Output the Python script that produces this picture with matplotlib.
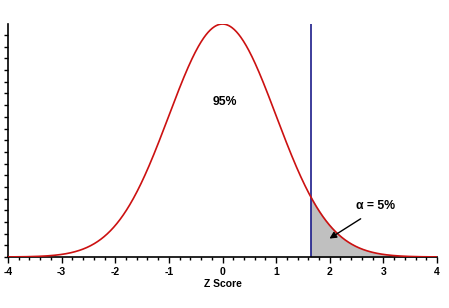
import numpy as np
import matplotlib
matplotlib.use("Agg")
import matplotlib.pyplot as plt
from matplotlib.ticker import MultipleLocator

# Distribution parameters (standard normal), one-tailed test at alpha = 5%
mean = 0.0
sd = 1.0
z_crit = 1.645
x_range = [-4, 4]
x_ticks = [-4, -3, -2, -1, 0, 1, 2, 3, 4]
center_label = "95%"
tail_label = "α = 5%"
x_label = "Z Score"

z = np.linspace(x_range[0], x_range[1], 801)
density = np.exp(-0.5 * ((z - mean) / sd) ** 2) / (sd * np.sqrt(2 * np.pi))

fig = plt.figure(figsize=(4.49, 3.08), dpi=100)
ax = fig.add_axes([0.0178, 0.1656, 0.9555, 0.7565])

tail = z >= z_crit
ax.fill_between(z[tail], 0, density[tail], color="#c0c0c0", zorder=1)
ax.plot(z, density, color="#cc1111", lw=1.2, zorder=3)
ax.axvline(z_crit, color="#1c1c8a", lw=1.2, zorder=2)

ax.set_xlim(x_range)
ax.set_ylim(0, 0.399)
ax.set_xticks(x_ticks)
ax.set_xticklabels([str(t) for t in x_ticks])
ax.xaxis.set_minor_locator(MultipleLocator(0.2))
ax.yaxis.set_major_locator(MultipleLocator(0.02))
ax.set_yticklabels([])

for s in ["top", "right"]:
    ax.spines[s].set_visible(False)
for s in ["left", "bottom"]:
    ax.spines[s].set_linewidth(1.2)
ax.tick_params(axis="x", which="major", direction="out", length=4, width=1,
               labelsize=7.5, pad=3)
ax.tick_params(axis="x", which="minor", direction="out", length=2.5, width=1)
ax.tick_params(axis="y", which="major", direction="out", length=3, width=1)
for lab in ax.get_xticklabels():
    lab.set_fontweight("bold")
    lab.set_family("Liberation Sans")

ax.set_xlabel(x_label, fontsize=7.5, fontweight="bold", family="Liberation Sans",
              labelpad=2)

ax.text(0.05, 0.265, center_label, fontsize=8.8, fontweight="bold",
        family="Liberation Sans", ha="center", va="center")
ax.text(2.85, 0.088, tail_label, fontsize=8.8, fontweight="bold",
        family="Liberation Sans", ha="center", va="center")
ax.annotate("", xy=(1.95, 0.029), xytext=(2.62, 0.068),
            arrowprops=dict(arrowstyle="-|>", color="black", lw=1,
                            mutation_scale=10))

fig.savefig("out.png", dpi=100)
